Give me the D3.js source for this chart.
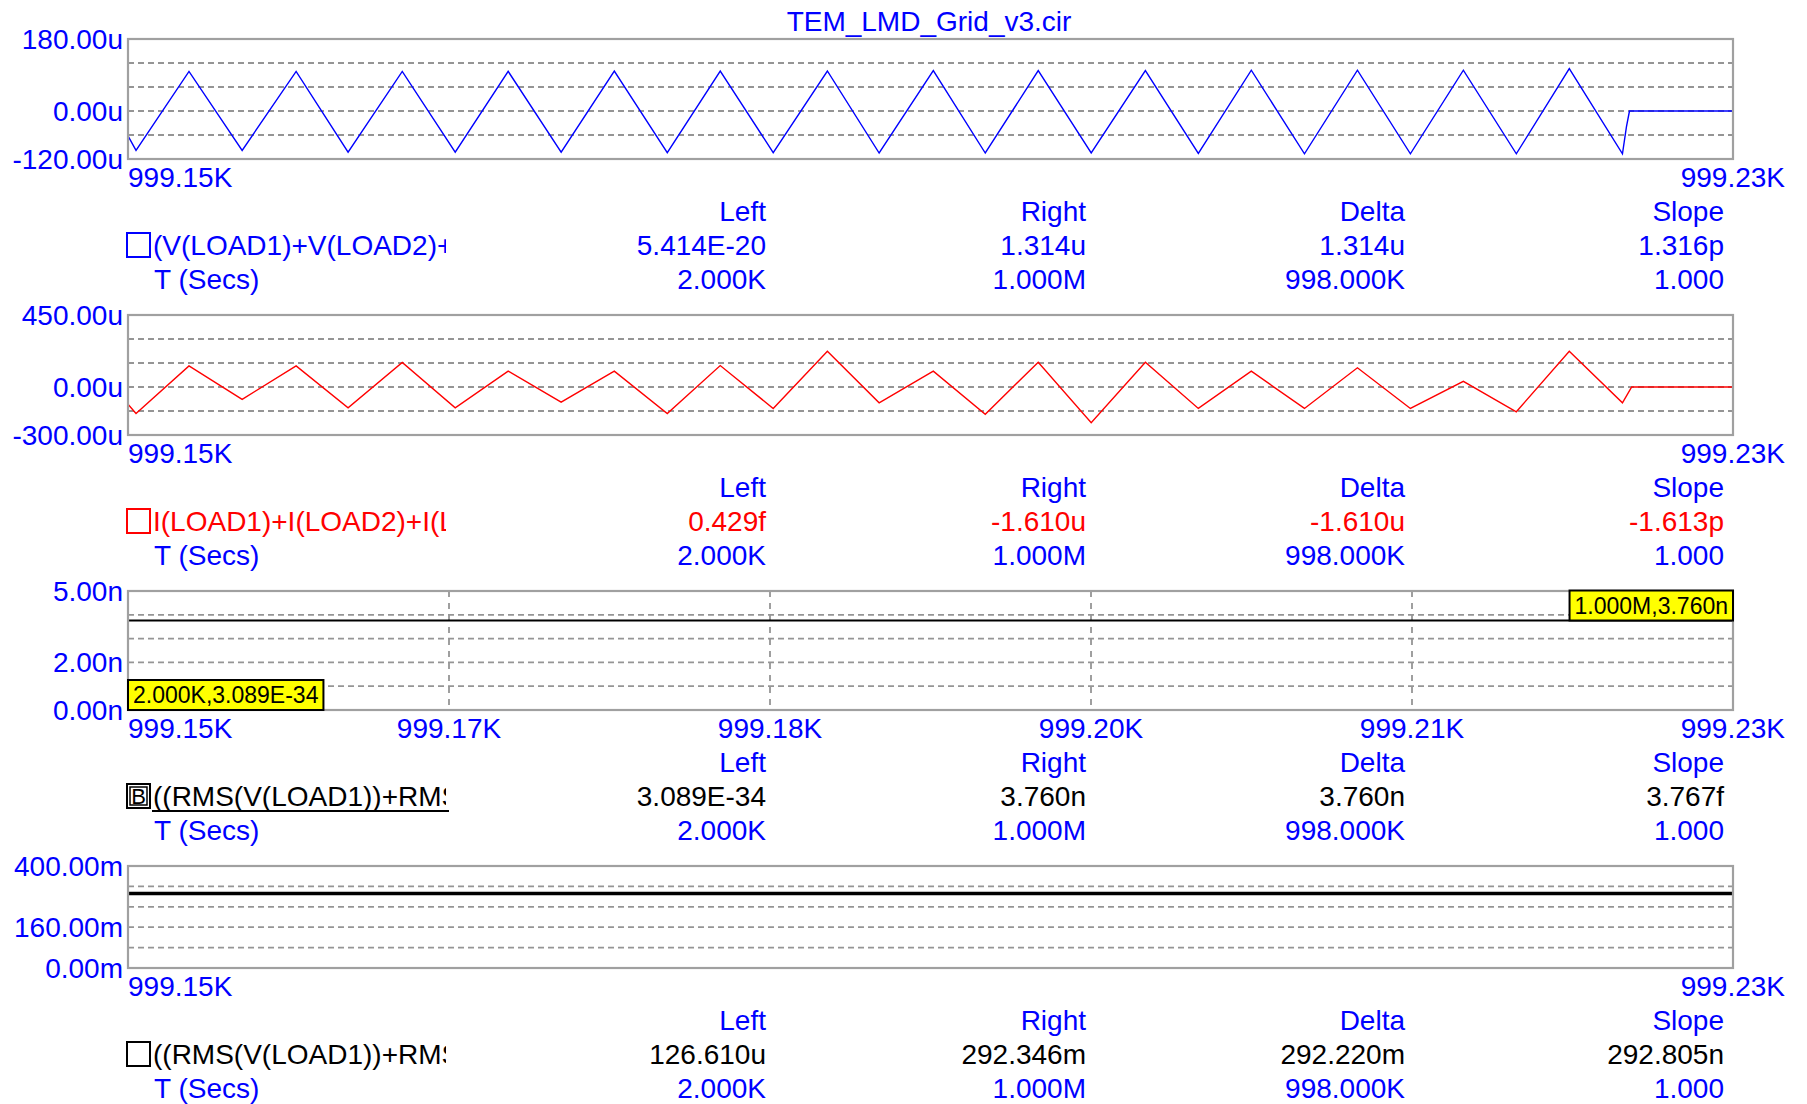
<!DOCTYPE html>
<html>
<head>
<meta charset="utf-8">
<script src="https://cdn.jsdelivr.net/npm/d3@7"></script>
<style>
body{margin:0;background:#fff;}
svg text{font-family:"Liberation Sans",Arial,sans-serif;font-size:28px;}
</style>
</head>
<body>
<svg width="1807" height="1104"></svg>
<script>
var title = "TEM_LMD_Grid_v3.cir";

// time axis (secs)
var xDomain = [999150, 999230];
var xTickVals = [999150, 999166, 999182, 999198, 999214, 999230];
var xTickLabels = ["999.15K", "999.17K", "999.18K", "999.20K", "999.21K", "999.23K"];

// V(LOAD1)+V(LOAD2)+... in uV
var blueTime = [999150.00, 999150.40, 999153.04, 999155.69, 999158.38, 999160.97, 999163.67, 999166.31,
  999168.95, 999171.59, 999174.24, 999176.88, 999179.52, 999182.16, 999184.86, 999187.44, 999190.14,
  999192.73, 999195.37, 999198.01, 999200.71, 999203.35, 999205.99, 999208.64, 999211.28, 999213.92,
  999216.56, 999219.20, 999221.84, 999224.49, 999224.69, 999224.84, 999230.00];
var blueVal = [-62, -98.5, 99, -98.5, 99, -103, 99, -103, 99, -103, 100, -104, 100, -104, 100, -105, 101,
  -105, 101, -105, 101, -106, 102, -107, 102, -107, 102, -107, 106, -107, -39, 0, 0];

// I(LOAD1)+I(LOAD2)+... in uA
var redTime = [999150.00, 999150.40, 999153.04, 999155.69, 999158.38, 999160.97, 999163.67, 999166.31,
  999168.95, 999171.59, 999174.24, 999176.88, 999179.52, 999182.16, 999184.86, 999187.44, 999190.14,
  999192.73, 999195.37, 999198.01, 999200.71, 999203.35, 999205.99, 999208.64, 999211.28, 999213.92,
  999216.56, 999219.20, 999221.84, 999224.49, 999224.95, 999230.00];
var redVal = [-108, -166, 132, -77, 132, -130, 153, -130, 99, -95, 99, -166, 134, -134, 223, -99, 99,
  -170, 155, -223, 155, -134, 99, -134, 120, -134, 35, -155, 223, -99, 0, 0];

// rms traces
var rmsTime = [999150, 999230];
var rmsNVal = [3.760, 3.760];      // n
var rmsMVal = [292.346, 292.346];  // m

// y ticks per panel
var y1Ticks = [-120, 0, 180], y1Labels = ["-120.00u", "0.00u", "180.00u"];
var y2Ticks = [-300, 0, 450], y2Labels = ["-300.00u", "0.00u", "450.00u"];
var y3Ticks = [0, 2, 5], y3Labels = ["0.00n", "2.00n", "5.00n"];
var y4Ticks = [0, 160, 400], y4Labels = ["0.00m", "160.00m", "400.00m"];

// cursor table
var heads = ["Left", "Right", "Delta", "Slope"];
var timeRow = ["2.000K", "1.000M", "998.000K", "1.000"];
var vals1 = ["5.414E-20", "1.314u", "1.314u", "1.316p"];
var vals2 = ["0.429f", "-1.610u", "-1.610u", "-1.613p"];
var vals3 = ["3.089E-34", "3.760n", "3.760n", "3.767f"];
var vals4 = ["126.610u", "292.346m", "292.220m", "292.805n"];
var exprs = ["(V(LOAD1)+V(LOAD2)+V(LOAD3))", "I(LOAD1)+I(LOAD2)+I(LOAD3)",
  "((RMS(V(LOAD1))+RMS(V(LOAD2)))", "((RMS(V(LOAD1))+RMS(V(LOAD2)))"];
var tagLeft = "2.000K,3.089E-34", tagRight = "1.000M,3.760n";

var BLUE = "#0000ff", RED = "#ff0000", GRID = "#959595";
var colX = [766, 1086, 1405, 1724];

var svg = d3.select("svg");
svg.append("rect").attr("width", 1807).attr("height", 1104).attr("fill", "#fff");

var x = d3.scaleLinear().domain(xDomain).range([128, 1733]);

svg.append("text").attr("x", 929).attr("y", 31).attr("text-anchor", "middle")
  .attr("fill", BLUE).text(title);

var panels = [
  {top: 39, bottom: 159, dom: [-120, 180], ticks: y1Ticks, labels: y1Labels,
   series: [{t: blueTime, v: blueVal, c: BLUE, w: 1.4}], vals: vals1, valColor: BLUE, mark: "box", markColor: BLUE},
  {top: 315, bottom: 435, dom: [-300, 450], ticks: y2Ticks, labels: y2Labels,
   series: [{t: redTime, v: redVal, c: RED, w: 1.4}], vals: vals2, valColor: RED, mark: "box", markColor: RED},
  {top: 591, bottom: 710, dom: [0, 5], ticks: y3Ticks, labels: y3Labels, allX: true,
   series: [{t: rmsTime, v: rmsNVal, c: "#000", w: 2}], vals: vals3, valColor: "#000", mark: "B", markColor: "#000"},
  {top: 866, bottom: 968, dom: [0, 400], ticks: y4Ticks, labels: y4Labels,
   series: [{t: rmsTime, v: rmsMVal, c: "#000", w: 3.5}], vals: vals4, valColor: "#000", mark: "box", markColor: "#000"}
];

svg.append("defs").append("clipPath").attr("id", "exprClip")
  .append("rect").attr("x", 150).attr("y", 0).attr("width", 296).attr("height", 1104);

panels.forEach(function(p, i) {
  var y = d3.scaleLinear().domain(p.dom).range([p.bottom, p.top]);
  var g = svg.append("g");
  var step = (p.dom[1] - p.dom[0]) / 5;
  var grid = d3.range(1, 5).map(function(k) { return p.dom[0] + k * step; });

  // dashed grid
  g.selectAll(".hg").data(grid).enter().append("line")
    .attr("x1", x.range()[0]).attr("x2", x.range()[1])
    .attr("y1", function(d) { return y(d); }).attr("y2", function(d) { return y(d); })
    .attr("stroke", GRID).attr("stroke-width", 1.8).attr("stroke-dasharray", "6,4");
  if (p.allX) {
    g.selectAll(".vg").data(xTickVals.slice(1, -1)).enter().append("line")
      .attr("x1", function(d) { return x(d); }).attr("x2", function(d) { return x(d); })
      .attr("y1", p.top).attr("y2", p.bottom)
      .attr("stroke", GRID).attr("stroke-width", 1.8).attr("stroke-dasharray", "6,6");
  }

  // traces
  p.series.forEach(function(s) {
    var pts = s.t.map(function(t, k) { return [t, s.v[k]]; });
    g.append("path").datum(pts)
      .attr("fill", "none").attr("stroke", s.c).attr("stroke-width", s.w)
      .attr("d", d3.line().x(function(d) { return x(d[0]); }).y(function(d) { return y(d[1]); }));
  });

  g.append("rect").attr("x", x.range()[0]).attr("y", p.top)
    .attr("width", x.range()[1] - x.range()[0]).attr("height", p.bottom - p.top)
    .attr("fill", "none").attr("stroke", "#a0a0a0").attr("stroke-width", 2.2);

  // y labels
  g.selectAll(".yl").data(p.ticks).enter().append("text")
    .attr("x", 123).attr("y", function(d) { return y(d) + 10; })
    .attr("text-anchor", "end").attr("fill", BLUE)
    .text(function(d, k) { return p.labels[k]; });

  // x labels
  var xi = p.allX ? d3.range(xTickVals.length) : [0, xTickVals.length - 1];
  g.selectAll(".xl").data(xi).enter().append("text")
    .attr("x", function(k) { return k == 0 ? x.range()[0] : (k == xTickVals.length - 1 ? 1785 : x(xTickVals[k])); })
    .attr("y", p.bottom + 28)
    .attr("text-anchor", function(k) { return k == 0 ? "start" : (k == xTickVals.length - 1 ? "end" : "middle"); })
    .attr("fill", BLUE)
    .text(function(k) { return xTickLabels[k]; });

  // cursor table
  var r1 = p.bottom + 52, r2 = p.bottom + 86, r3 = p.bottom + 120;
  g.selectAll(".hd").data(heads).enter().append("text")
    .attr("x", function(d, k) { return colX[k]; }).attr("y", r1 + 10)
    .attr("text-anchor", "end").attr("fill", BLUE).text(function(d) { return d; });
  g.selectAll(".vl").data(p.vals).enter().append("text")
    .attr("x", function(d, k) { return colX[k]; }).attr("y", r2 + 10)
    .attr("text-anchor", "end").attr("fill", p.valColor).text(function(d) { return d; });
  g.selectAll(".tr").data(timeRow).enter().append("text")
    .attr("x", function(d, k) { return colX[k]; }).attr("y", r3 + 10)
    .attr("text-anchor", "end").attr("fill", BLUE).text(function(d) { return d; });
  g.append("text").attr("x", 154).attr("y", r3 + 10).attr("fill", BLUE).text("T (Secs)");

  g.append("rect").attr("x", 127).attr("y", r2 - 12).attr("width", 23).attr("height", 24)
    .attr("fill", "none").attr("stroke", p.markColor).attr("stroke-width", 2);
  if (p.mark == "B") {
    g.append("rect").attr("x", 130).attr("y", r2 - 9).attr("width", 17).attr("height", 18)
      .attr("fill", "none").attr("stroke", p.markColor).attr("stroke-width", 1.5);
    g.append("text").attr("x", 138.5).attr("y", r2 + 8).attr("text-anchor", "middle")
      .style("font-size", "22px").attr("fill", p.markColor).text("B");
    g.append("line").attr("x1", 152).attr("x2", 449).attr("y1", r2 + 15).attr("y2", r2 + 15)
      .attr("stroke", "#000").attr("stroke-width", 2);
  }
  g.append("text").attr("x", 153).attr("y", r2 + 10).attr("fill", p.markColor)
    .attr("clip-path", "url(#exprClip)").text(exprs[i]);

  // cursor tags on the rms panel
  if (p.mark == "B") {
    var tags = [
      {txt: tagLeft, x0: x(rmsTime[0]), yb: y(0), anchor: "left"},
      {txt: tagRight, x0: x(rmsTime[1]), yb: y(rmsNVal[1]), anchor: "right"}
    ];
    tags.forEach(function(tg) {
      var t = g.append("text").style("font-size", "23px").attr("fill", "#000").text(tg.txt);
      var w = t.node().getComputedTextLength() + 10;
      var bx = tg.anchor == "left" ? tg.x0 : tg.x0 - w;
      g.insert("rect", function() { return t.node(); })
        .attr("x", bx).attr("y", tg.yb - 30).attr("width", w).attr("height", 30)
        .attr("fill", "#ffff00").attr("stroke", "#000").attr("stroke-width", 2);
      t.attr("x", bx + 5).attr("y", tg.yb - 7);
    });
  }
});
</script>
</body>
</html>
